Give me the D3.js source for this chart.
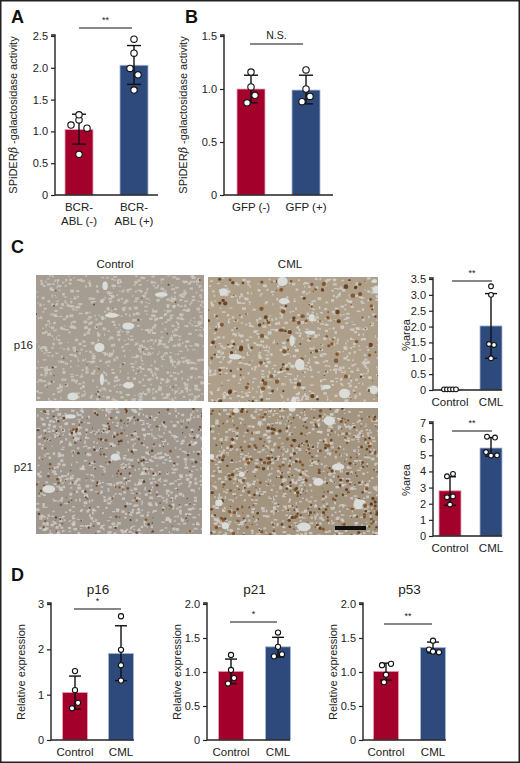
<!DOCTYPE html>
<html><head><meta charset="utf-8">
<script src="https://cdn.jsdelivr.net/npm/d3@7"></script>
<style>body{margin:0;background:#fff}svg{display:block}</style>
</head><body>
<svg id="c" width="520" height="763"></svg>
<script>
// ---- data ----
const catsA = ["BCR-ABL (-)", "BCR-ABL (+)"];
const meanA = [1.03, 2.04];
const errA = [[0.80, 1.27], [1.74, 2.35]];
const ptsA = [[1.10, 1.18, 1.05, 1.26, 0.64], [2.45, 2.23, 1.99, 1.89, 1.65]];
const ticksA = [0, 0.5, 1.0, 1.5, 2.0, 2.5];

const catsB = ["GFP (-)", "GFP (+)"];
const meanB = [1.00, 0.99];
const errB = [[0.87, 1.13], [0.86, 1.13]];
const ptsB = [[1.16, 1.02, 0.94, 0.87], [1.18, 1.00, 0.93, 0.88]];
const ticksB = [0, 0.5, 1.0, 1.5];

const catsC = ["Control", "CML"];
const meanC16 = [0.02, 2.02];
const errC16 = [[0.02, 0.02], [1.00, 3.04]];
const ptsC16 = [[0.02, 0.02, 0.02, 0.02, 0.02], [3.27, 3.00, 1.45, 1.42, 1.00]];
const ticksC16 = [0, 0.5, 1.0, 1.5, 2.0, 2.5, 3.0, 3.5];
const meanC21 = [2.8, 5.45];
const errC21 = [[1.9, 3.67], [4.95, 6.1]];
const ptsC21 = [[3.85, 3.7, 2.45, 2.4, 1.95], [6.15, 6.1, 5.2, 5.0, 4.98]];
const ticksC21 = [0, 1, 2, 3, 4, 5, 6, 7];

const catsD = ["Control", "CML"];
const meanP16 = [1.05, 1.91];
const errP16 = [[0.68, 1.41], [1.31, 2.52]];
const ptsP16 = [[1.52, 1.10, 0.82, 0.70], [2.73, 1.99, 1.65, 1.31]];
const ticksP16 = [0, 1, 2, 3];
const meanP21 = [1.01, 1.37];
const errP21 = [[0.83, 1.19], [1.22, 1.51]];
const ptsP21 = [[1.25, 1.03, 0.91, 0.83], [1.58, 1.37, 1.26, 1.23]];
const meanP53 = [1.01, 1.36];
const errP53 = [[0.88, 1.13], [1.28, 1.44]];
const ptsP53 = [[1.12, 1.10, 0.96, 0.85], [1.46, 1.33, 1.30, 1.29]];
const ticksRel = [0, 0.5, 1.0, 1.5, 2.0];

const RED = "#a3002b", BLUE = "#2e4a7c";
const svg = d3.select("#c");
const FONT = "Liberation Sans, Arial, sans-serif";
const NARROW = "Liberation Sans Narrow, Arial Narrow, Liberation Sans, sans-serif";

svg.append("rect").attr("x",0.75).attr("y",0.75).attr("width",518.5).attr("height",761.5)
  .attr("fill","none").attr("stroke","#222").attr("stroke-width",1.5);

function fmt1(d){ return d===0 ? "0" : d.toFixed(1); }
function fmt0(d){ return String(d); }

function chart(o){
  const g = svg.append("g");
  const y = d3.scaleLinear().domain([0, o.max]).range([o.y0, o.y1]);
  const x = d3.scalePoint().domain(o.cats).range(o.xr);
  const colors = [RED, BLUE];
  g.selectAll("rect.bar").data(o.means).join("rect")
    .attr("x",(d,i)=>x(o.cats[i]) - o.bw/2).attr("width",o.bw)
    .attr("y",d=>y(d)).attr("height",d=>o.y0 - y(d))
    .attr("fill",(d,i)=>colors[i]).attr("stroke",(d,i)=>i?"#a9b8d3":"#e7a9b6").attr("stroke-width",0.8);
  const ax = g.append("g").attr("transform",`translate(${o.ax},0)`)
    .call(d3.axisLeft(y).tickValues(o.ticks).tickFormat(o.fmt).tickSize(4).tickPadding(3));
  ax.select(".domain").attr("stroke","#222").attr("stroke-width",1.4).attr("d",`M-4,${o.y1-1}H0V${o.y0}`);
  ax.selectAll(".tick line").attr("stroke","#222").attr("stroke-width",1.2);
  ax.selectAll(".tick text").attr("font-family",FONT).attr("font-size",11).attr("fill","#222");
  g.append("line").attr("x1",o.ax).attr("x2",o.xEnd).attr("y1",o.y0).attr("y2",o.y0)
    .attr("stroke","#222").attr("stroke-width",1.4);
  o.errs.forEach((e,i)=>{
    const cx = x(o.cats[i]);
    g.append("line").attr("x1",cx).attr("x2",cx).attr("y1",y(e[0])).attr("y2",y(e[1])).attr("stroke","#111").attr("stroke-width",1.4);
    [e[0],e[1]].forEach(v=>g.append("line").attr("x1",cx-o.cap).attr("x2",cx+o.cap).attr("y1",y(v)).attr("y2",y(v)).attr("stroke","#111").attr("stroke-width",1.4));
  });
  const jit = o.jit;
  o.pts.forEach((arr,i)=>{
    const cx = x(o.cats[i]);
    g.selectAll(null).data(arr).join("circle")
      .attr("cx",(d,j)=>cx + jit[i][j]).attr("cy",d=>y(d)).attr("r",o.r||3.2)
      .attr("fill","#fff").attr("stroke","#111").attr("stroke-width",1.1);
  });
  o.cats.forEach((c,i)=>{
    const lines = o.xlines ? o.xlines[i] : [c];
    lines.forEach((l,k)=>g.append("text").attr("x",x(c)).attr("y",o.y0+16+k*14)
      .attr("text-anchor","middle").attr("font-family",FONT).attr("font-size",11.5).attr("fill","#222").text(l));
  });
  const yl = g.append("text").attr("transform",`translate(${o.ylx},${o.yly}) rotate(-90)`)
    .attr("text-anchor","middle").attr("font-family",NARROW).attr("font-size",o.ylfs||11).attr("fill","#222");
  if (o.beta){
    yl.append("tspan").text("SPiDER");
    yl.append("tspan").attr("font-style","italic").attr("font-family","DejaVu Serif, serif").text("β");
    yl.append("tspan").text(" -galactosidase activity");
  } else yl.text(o.ylabel);
  g.append("line").attr("x1",o.br[0]).attr("x2",o.br[1]).attr("y1",o.br[2]).attr("y2",o.br[2]).attr("stroke","#111").attr("stroke-width",1.2);
  g.append("text").attr("x",(o.br[0]+o.br[1])/2).attr("y",o.br[2]-5).attr("text-anchor","middle")
    .attr("font-family",FONT).attr("font-size",o.sig==="N.S."?10.5:9).attr("fill","#222").text(o.sig);
  if (o.title) g.append("text").attr("x",(o.xr[0]+o.xr[1])/2).attr("y",o.ty).attr("text-anchor","middle")
    .attr("font-family",FONT).attr("font-size",13.5).attr("fill","#222").text(o.title);
}

function letter(t,x,y){ svg.append("text").attr("x",x).attr("y",y).attr("font-family",FONT).attr("font-weight","bold").attr("font-size",18).attr("fill","#111").text(t); }
letter("A",11,23); letter("B",185,23); letter("C",11,253); letter("D",11,581);

chart({cats:catsA, means:meanA, errs:errA, pts:ptsA, ticks:ticksA, fmt:fmt1, max:2.5, y0:195, y1:36,
  xr:[79,134], bw:28, ax:55, xEnd:158, cap:7, jit:[[-8,0,8,0,0],[0,0,-4,4,0]],
  xlines:[["BCR-","ABL (-)"],["BCR-","ABL (+)"]], ylx:17, yly:115, beta:true, br:[79,132,28], sig:"**"});
chart({cats:catsB, means:meanB, errs:errB, pts:ptsB, ticks:ticksB, fmt:fmt1, max:1.5, y0:195, y1:36,
  xr:[251,306], bw:28, ax:224, xEnd:333, cap:7, jit:[[0,0,4,-4],[0,0,4,-4]],
  ylx:187, yly:115, beta:true, br:[250,303,44], sig:"N.S."});

// ---- micrographs (decorative texture) ----
let seed = 7;
function rnd(){ seed = (seed*16807) % 2147483647; return seed/2147483647; }
function micro(x0,y0,w,h,base,light,nHoles,nBrown,brownSize,gridLight){
  const g = svg.append("g");
  const clip = "cl"+x0+"_"+y0;
  g.append("clipPath").attr("id",clip).append("rect").attr("x",x0).attr("y",y0).attr("width",w).attr("height",h);
  const gg = g.append("g").attr("clip-path",`url(#${clip})`);
  gg.append("rect").attr("x",x0).attr("y",y0).attr("width",w).attr("height",h).attr("fill",base);
  for(let i=0;i<gridLight;i++){
    gg.append("rect").attr("x",x0+rnd()*w).attr("y",y0+rnd()*h).attr("width",1+rnd()*3).attr("height",1+rnd()*2)
      .attr("fill",light).attr("opacity",0.75);
  }
  for(let i=0;i<nBrown;i++){
    gg.append("circle").attr("cx",x0+rnd()*w).attr("cy",y0+rnd()*h).attr("r",0.5+rnd()*brownSize)
      .attr("fill",rnd()<0.5?"#5a3514":"#7b4a1e").attr("opacity",0.85);
  }
  for(let i=0;i<nHoles;i++){
    gg.append("ellipse").attr("cx",x0+rnd()*w).attr("cy",y0+rnd()*h).attr("rx",2+rnd()*5).attr("ry",2+rnd()*4)
      .attr("fill","#d9dcd8");
  }
}
micro(36,275,168,126,"#a59d91","#cfcbc4",8,30,0.6,900);
micro(208,277,170,125,"#ad9f8a","#d8d6d0",14,160,1.8,700);
micro(36,408,166,126,"#9f978e","#d4d1cc",3,220,0.9,800);
micro(210,408,168,127,"#a39480","#d6d4cf",12,380,1.3,800);
svg.append("rect").attr("x",335).attr("y",526).attr("width",31).attr("height",4).attr("fill","#111");
[["Control",115,268,"middle"],["CML",290,268,"middle"],["p16",33,349,"end"],["p21",33,471,"end"]].forEach(t=>
  svg.append("text").attr("x",t[1]).attr("y",t[2]).attr("text-anchor",t[3]).attr("font-family",FONT)
    .attr("font-size",11.5).attr("fill","#222").text(t[0]));

chart({cats:catsC, means:meanC16, errs:errC16, pts:ptsC16, ticks:ticksC16, fmt:fmt1, max:3.5, y0:390, y1:279,
  xr:[450,491], bw:22, ax:433, xEnd:502, cap:6, r:2.4, jit:[[-6,-3,0,3,6],[0,0,-2,3,0]],
  ylx:410, yly:335, ylabel:"%area", br:[452,492,281], sig:"**"});
chart({cats:catsC, means:meanC21, errs:errC21, pts:ptsC21, ticks:ticksC21, fmt:fmt0, max:7, y0:536, y1:423,
  xr:[450,491], bw:22, ax:433, xEnd:502, cap:6, r:2.4, jit:[[3,-3,3,-3,0],[-4,4,-5,6,0]],
  ylx:410, yly:480, ylabel:"%area", br:[452,492,431], sig:"**"});

chart({cats:catsD, means:meanP16, errs:errP16, pts:ptsP16, ticks:ticksP16, fmt:fmt0, max:3, y0:740, y1:604,
  xr:[75,121], bw:25, ax:51, xEnd:134, cap:6, r:2.6, jit:[[0,0,3,-3],[0,0,0,0]],
  ylx:25, yly:672, ylabel:"Relative expression", br:[74,121,609], sig:"*", title:"p16", ty:594});
chart({cats:catsD, means:meanP21, errs:errP21, pts:ptsP21, ticks:ticksRel, fmt:fmt1, max:2, y0:740, y1:604,
  xr:[231,278], bw:25, ax:207, xEnd:290, cap:6, r:2.6, jit:[[0,0,3,-3],[0,0,4,-4]],
  ylx:181, yly:672, ylabel:"Relative expression", br:[230,277,622], sig:"*", title:"p21", ty:594});
chart({cats:catsD, means:meanP53, errs:errP53, pts:ptsP53, ticks:ticksRel, fmt:fmt1, max:2, y0:740, y1:604,
  xr:[386,433], bw:25, ax:363, xEnd:446, cap:6, r:2.6, jit:[[5,-4,0,-2],[0,-4,0,6]],
  ylx:337, yly:672, ylabel:"Relative expression", br:[384,432,624], sig:"**", title:"p53", ty:594});
</script>
</body></html>
